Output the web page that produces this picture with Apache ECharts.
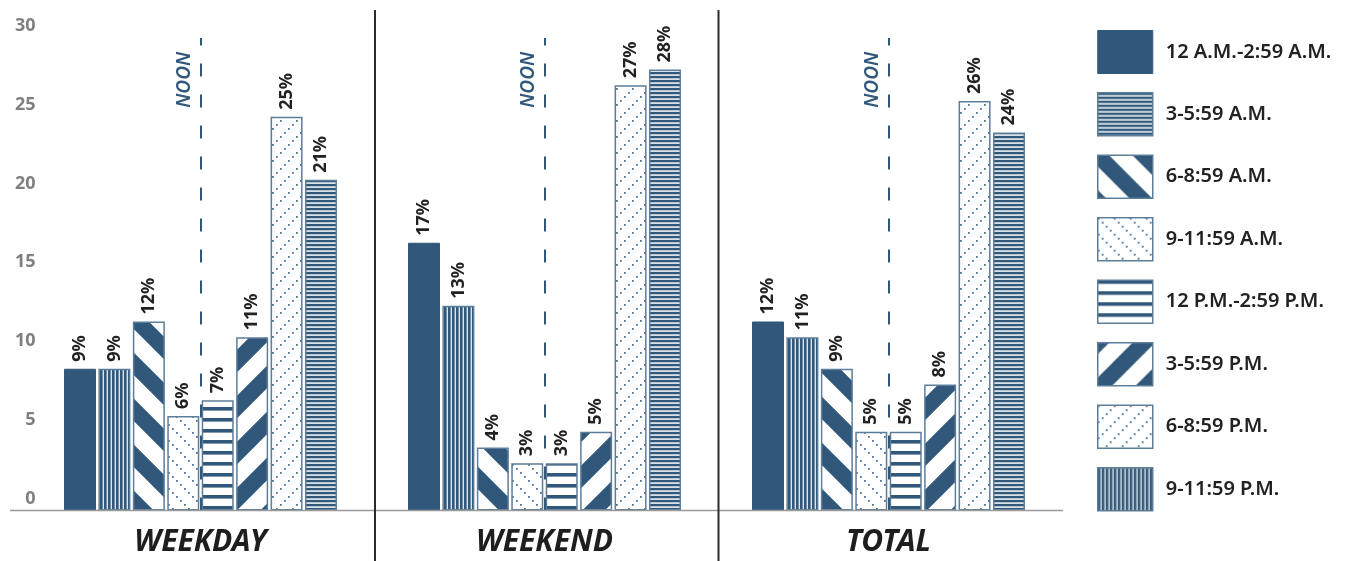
<!DOCTYPE html>
<html><head><meta charset="utf-8">
<script src="https://cdn.jsdelivr.net/npm/echarts@6/dist/echarts.min.js"></script>
<style>html,body{margin:0;padding:0;background:#fff}#c{width:1354px;height:561px}</style>
</head><body><div id="c"></div>
<script>
// ---- data ----
const categories = ['WEEKDAY', 'WEEKEND', 'TOTAL'];
const seriesNames = ['12 A.M.-2:59 A.M.', '3-5:59 A.M.', '6-8:59 A.M.', '9-11:59 A.M.',
  '12 P.M.-2:59 P.M.', '3-5:59 P.M.', '6-8:59 P.M.', '9-11:59 P.M.'];
const s12am = [9, 17, 12];
const s3am = [9, 13, 11];
const s6am = [12, 4, 9];
const s9am = [6, 3, 5];
const s12pm = [7, 3, 5];
const s3pm = [11, 5, 8];
const s6pm = [25, 27, 26];
const s9pm = [21, 28, 24];
const yTicks = [0, 5, 10, 15, 20, 25, 30];
const noonLabel = 'NOON';

// ---- styles ----
const FONT = 'Noto Sans';
const DARK = '#31587a';
const EDGE = '#5d7e9b';
const DOT = '#4f7293';

function tile(w, h, draw) {
  const c = document.createElement('canvas');
  c.width = w; c.height = h;
  const g = c.getContext('2d');
  g.fillStyle = '#ffffff'; g.fillRect(0, 0, w, h);
  draw(g, w, h);
  return { image: c, repeat: 'repeat' };
}
function vStripes(p, d, light) {
  return tile(p, p, (g) => { g.fillStyle = light; g.fillRect(0, 0, p, p); g.fillStyle = DARK; g.fillRect(0, 0, d, p); });
}
function hStripes(p, d, light) {
  return tile(p, p, (g) => { g.fillStyle = light; g.fillRect(0, 0, p, p); g.fillStyle = DARK; g.fillRect(0, 0, p, d); });
}
function diag(s, w, dir) {
  return tile(s, s, (g) => {
    g.strokeStyle = DARK; g.lineWidth = w; g.beginPath();
    for (let k = -1; k <= 1; k++) {
      if (dir > 0) { g.moveTo(-s, -s + k * s); g.lineTo(2 * s, 2 * s + k * s); }
      else { g.moveTo(-s, 2 * s + k * s); g.lineTo(2 * s, -s + k * s); }
    }
    g.stroke();
  });
}
function dots(s, n, dir) {
  return tile(s, s, (g) => {
    g.fillStyle = DOT;
    const st = s / n;
    for (let i = 0; i < n; i++) {
      const x = i * st;
      const y = dir > 0 ? i * st : (s - i * st) % s;
      g.fillRect(x, y, 1.8, 1.8);
    }
  });
}
const pVFine = vStripes(4, 2.6, '#dbe3ea');
const pHFine = hStripes(4, 2.2, '#d9e1e8');
const patterns = [
  DARK,
  pVFine,
  diag(46, 16, 1),
  dots(16, 4, 1),
  hStripes(11, 3.6, '#ffffff'),
  diag(46, 16, -1),
  dots(16, 4, -1),
  pHFine
];
// legend in the original swaps the two fine-stripe swatches
const legendPatterns = patterns.slice();
legendPatterns[1] = pHFine;
legendPatterns[7] = pVFine;

const values = [s12am, s3am, s6am, s9am, s12pm, s3pm, s6pm, s9pm];

const chart = echarts.init(document.getElementById('c'), null, { renderer: 'canvas' });

const series = values.map((v, i) => ({
  name: seriesNames[i],
  type: 'bar',
  data: v,
  barWidth: 32,
  barGap: '7.6%',
  itemStyle: i === 0 ? { color: DARK, borderColor: DARK, borderWidth: 1 } :
    { color: patterns[i], borderColor: EDGE, borderWidth: 1.5 },
  label: {
    show: true, position: 'top', distance: 7, rotate: 90, align: 'left', verticalAlign: 'middle',
    formatter: '{c}%', fontFamily: FONT, fontSize: 18, fontWeight: 'bold', color: '#222222'
  },
  z: 3
}));
series.push({
  name: 'noon', type: 'line', data: [], silent: true, z: 1, symbol: 'none',
  markLine: {
    silent: true, symbol: 'none', animation: false,
    lineStyle: { color: DARK, width: 2, type: [13, 18] },
    label: {
      show: true, formatter: noonLabel, position: 'insideEndTop', distance: [14, 6],
      color: DARK, fontFamily: FONT, fontSize: 19, fontStyle: 'italic', fontWeight: 600
    },
    data: categories.map((c) => ({ xAxis: c }))
  }
});

chart.setOption({
  animation: false,
  backgroundColor: '#ffffff',
  grid: { left: 28.5, width: 1032, top: 38, bottom: 50.5, containLabel: false },
  legend: {
    orient: 'vertical', left: 1097, top: 30, itemWidth: 55, itemHeight: 43, itemGap: 18, padding: 0,
    icon: 'rect', selectedMode: false,
    textStyle: { fontFamily: FONT, fontSize: 20, fontWeight: 600, color: '#222222', padding: [0, 0, 0, 8] },
    data: seriesNames.map((n, i) => ({
      name: n,
      itemStyle: i === 0 ? { color: DARK, borderColor: DARK, borderWidth: 1 } :
        { color: legendPatterns[i], borderColor: EDGE, borderWidth: 1.5 }
    }))
  },
  xAxis: {
    type: 'category', data: categories,
    axisLine: { show: false }, axisTick: { show: false }, splitLine: { show: false },
    axisLabel: { fontFamily: FONT, fontSize: 30, fontWeight: 'bold', fontStyle: 'italic', color: '#1e1e1e', margin: 17 }
  },
  yAxis: {
    type: 'value', min: yTicks[0], max: yTicks[yTicks.length - 1], interval: yTicks[1] - yTicks[0],
    axisLine: { show: false }, axisTick: { show: false }, splitLine: { show: false },
    axisLabel: { fontFamily: FONT, fontSize: 18, fontWeight: 'bold', color: '#808080', margin: -7, align: 'right', verticalAlign: 'bottom', padding: [0, 0, 3, 0] }
  },
  graphic: [
    { type: 'line', z: 10, shape: { x1: 10, y1: 510.5, x2: 1063, y2: 510.5 }, style: { stroke: '#9a9a9a', lineWidth: 1.5 } },
    { type: 'line', z: 10, shape: { x1: 375, y1: 10, x2: 375, y2: 561 }, style: { stroke: '#2b2b2b', lineWidth: 2 } },
    { type: 'line', z: 10, shape: { x1: 718.5, y1: 10, x2: 718.5, y2: 561 }, style: { stroke: '#2b2b2b', lineWidth: 2 } }
  ],
  series: series
});
</script>
</body></html>
